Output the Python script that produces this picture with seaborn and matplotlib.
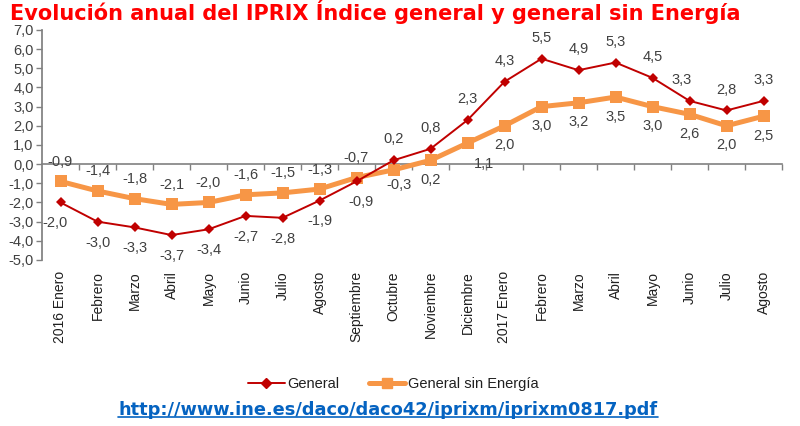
import matplotlib
matplotlib.use("Agg")
import matplotlib.pyplot as plt
import seaborn as sns
import pandas as pd
from matplotlib.lines import Line2D

categories = ["2016 Enero", "Febrero", "Marzo", "Abril", "Mayo", "Junio", "Julio",
              "Agosto", "Septiembre", "Octubre", "Noviembre", "Diciembre",
              "2017 Enero", "Febrero", "Marzo", "Abril", "Mayo", "Junio", "Julio", "Agosto"]
general = [-2.0, -3.0, -3.3, -3.7, -3.4, -2.7, -2.8, -1.9, -0.9, 0.2, 0.8, 2.3,
           4.3, 5.5, 4.9, 5.3, 4.5, 3.3, 2.8, 3.3]
sin_energia = [-0.9, -1.4, -1.8, -2.1, -2.0, -1.6, -1.5, -1.3, -0.7, -0.3, 0.2, 1.1,
               2.0, 3.0, 3.2, 3.5, 3.0, 2.6, 2.0, 2.5]
yticks = [7, 6, 5, 4, 3, 2, 1, 0, -1, -2, -3, -4, -5]

title = "Evolución anual del IPRIX Índice general y general sin Energía"
link = "http://www.ine.es/daco/daco42/iprixm/iprixm0817.pdf"

RED = "#C00000"
ORANGE = "#F79646"
TXT = "#404040"

sns.set_theme(style="white")
plt.rcParams["font.family"] = ["Liberation Sans", "DejaVu Sans"]

df = pd.DataFrame({"x": list(range(len(categories))), "General": general,
                   "General sin Energía": sin_energia})

fig = plt.figure(figsize=(8.0, 4.26), dpi=100)
ax = fig.add_axes([0.0525, 0.3897, 0.925, 0.54])

sns.lineplot(data=df, x="x", y="General sin Energía", ax=ax, color=ORANGE,
             linewidth=3.6, marker="s", markersize=8.5, markeredgewidth=0, zorder=3)
sns.lineplot(data=df, x="x", y="General", ax=ax, color=RED,
             linewidth=1.4, marker="D", markersize=5.5, markeredgewidth=0, zorder=4)

ax.set_xlim(-0.5, len(categories) - 0.5)
ax.set_ylim(-5, 7)
ax.set_yticks(yticks)
ax.set_yticklabels([f"{v:.1f}".replace(".", ",") for v in yticks], fontsize=10.5, color=TXT)
ax.set_xlabel("")
ax.set_ylabel("")

for s in ["top", "right"]:
    ax.spines[s].set_visible(False)
ax.spines["left"].set_color("#808080")
ax.spines["bottom"].set_color("#808080")
ax.spines["bottom"].set_linewidth(1.2)
ax.spines["bottom"].set_position(("data", 0))

ax.set_xticks(range(len(categories)))
ax.set_xticklabels(categories, rotation=90, fontsize=10, color="#202020", va="top")
ax.set_xticks([i + 0.5 for i in range(len(categories))], minor=True)
ax.tick_params(axis="x", which="major", length=0, pad=77)
ax.tick_params(axis="x", which="minor", length=4, color="#808080", width=1, direction="out", bottom=True)
ax.tick_params(axis="y", which="major", length=4, color="#808080", width=1, direction="out", left=True, pad=2)

def fmt(v):
    return f"{v:.1f}".replace(".", ",")

# label nudges in points
nudge_general = {0: (-4, 0), 8: (3, 0), 17: (-6, 0)}
nudge_orange = {9: (4, -6), 11: (12, -10)}
for i, v in enumerate(general):
    above = v > 0
    dx, extra = nudge_general.get(i, (0, 0))
    dy = 10 if above else -10
    ax.annotate(fmt(v), (i, v), xytext=(dx, dy + extra), textcoords="offset points",
                ha="center", va="bottom" if above else "top", fontsize=10.5, color=TXT)
for i, v in enumerate(sin_energia):
    if i in nudge_orange:
        dx, dyy = nudge_orange[i]
        ax.annotate(fmt(v), (i, v), xytext=(dx, dyy), textcoords="offset points",
                    ha="center", va="top", fontsize=10.5, color=TXT)
        continue
    above = v <= 0
    dy = 9 if above else -9
    ax.annotate(fmt(v), (i, v), xytext=(0, dy), textcoords="offset points",
                ha="center", va="bottom" if above else "top", fontsize=10.5, color=TXT)

handles = [Line2D([], [], color=RED, linewidth=1.4, marker="D", markersize=5),
           Line2D([], [], color=ORANGE, linewidth=3.6, marker="s", markersize=7)]
fig.legend(handles, ["General", "General sin Energía"], loc="center",
           bbox_to_anchor=(0.492, 0.099), ncol=2, frameon=False, fontsize=10.5,
           handlelength=2.5, columnspacing=2.0, handletextpad=0.2, labelcolor="#202020")

fig.text(0.469, 0.972, title, ha="center", va="center", color="#FF0000",
         fontsize=15, fontweight="bold", family="DejaVu Sans")
lt = fig.text(0.485, 0.038, link, ha="center", va="center", color="#0563C1",
              fontsize=12.8, fontweight="bold", family="DejaVu Sans", url=link)
fig.canvas.draw()
bb = lt.get_window_extent().transformed(fig.transFigure.inverted())
fig.add_artist(Line2D([bb.x0, bb.x1], [bb.y0 + 0.004, bb.y0 + 0.004], transform=fig.transFigure,
                      color="#0563C1", linewidth=1.2))

fig.savefig("out.png", dpi=100)
